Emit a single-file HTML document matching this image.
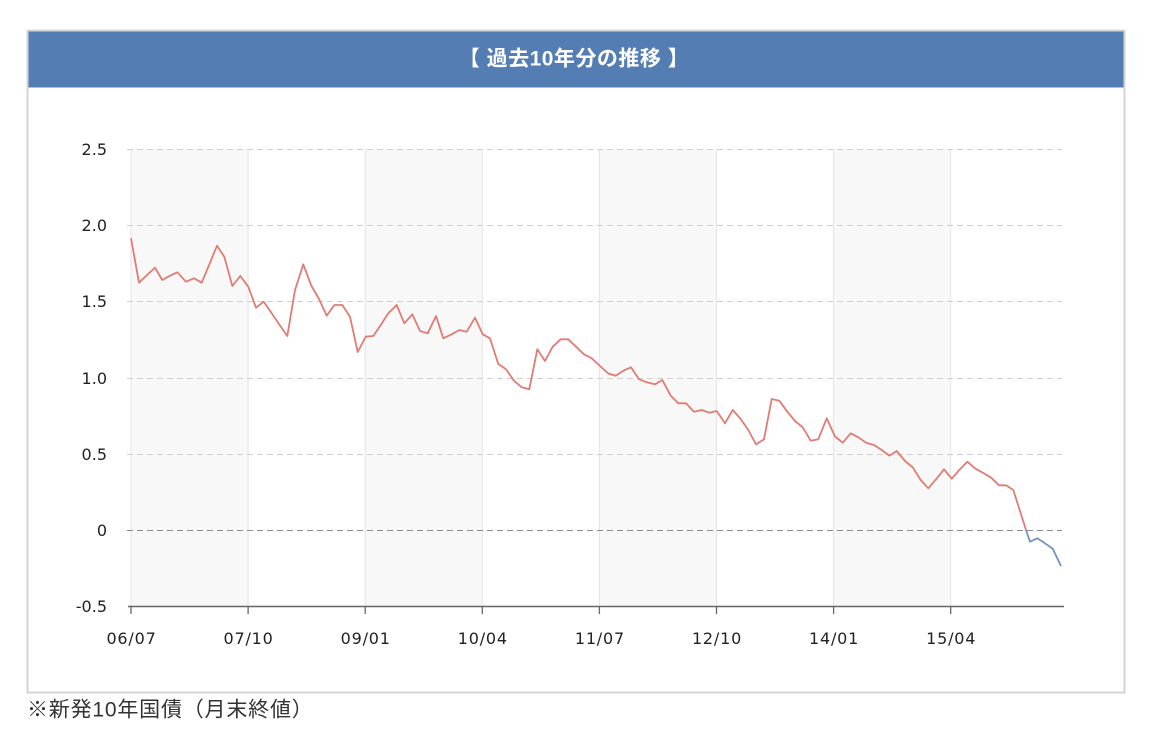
<!DOCTYPE html>
<html>
<head>
<meta charset="utf-8">
<style>
html,body{margin:0;padding:0;background:#fff;}
body{width:1155px;height:735px;overflow:hidden;}
svg{display:block;}
</style>
</head>
<body>
<svg width="1155" height="735" viewBox="0 0 1155 735" xmlns="http://www.w3.org/2000/svg">
  <!-- outer box -->
  <rect x="27.5" y="30.5" width="1097" height="662" fill="#fff" stroke="#d4d4d4" stroke-width="2"/>
  <!-- header -->
  <rect x="28.5" y="31.5" width="1095" height="56" fill="#547db3"/>
  <text x="574" y="65.5" text-anchor="middle" font-family="'Liberation Sans','Noto Sans CJK JP',sans-serif" font-size="21" font-weight="bold" fill="#ffffff" letter-spacing="0.5">【 過去10年分の推移 】</text>

  <!-- shaded bands -->
  <g fill="#f8f8f8">
    <rect x="131" y="149" width="117.1" height="457"/>
    <rect x="365.2" y="149" width="117.1" height="457"/>
    <rect x="599.4" y="149" width="117.1" height="457"/>
    <rect x="833.6" y="149" width="117.1" height="457"/>
  </g>
  <!-- vertical grid -->
  <g stroke="#e4e4e4" stroke-width="1">
    <line x1="131" y1="149" x2="131" y2="606"/>
    <line x1="248.1" y1="149" x2="248.1" y2="606"/>
    <line x1="365.2" y1="149" x2="365.2" y2="606"/>
    <line x1="482.3" y1="149" x2="482.3" y2="606"/>
    <line x1="599.4" y1="149" x2="599.4" y2="606"/>
    <line x1="716.5" y1="149" x2="716.5" y2="606"/>
    <line x1="833.6" y1="149" x2="833.6" y2="606"/>
    <line x1="950.7" y1="149" x2="950.7" y2="606"/>
  </g>
  <!-- horizontal dashed grid -->
  <g stroke="#cfcfcf" stroke-width="1" stroke-dasharray="6,4">
    <line x1="127" y1="149.5" x2="1062" y2="149.5"/>
    <line x1="127" y1="225.5" x2="1062" y2="225.5"/>
    <line x1="127" y1="301.5" x2="1062" y2="301.5"/>
    <line x1="127" y1="378.5" x2="1062" y2="378.5"/>
    <line x1="127" y1="454.5" x2="1062" y2="454.5"/>
  </g>
  <line x1="127" y1="530.5" x2="1062" y2="530.5" stroke="#8c8c8c" stroke-width="1" stroke-dasharray="6,4"/>

  <!-- axis -->
  <line x1="128" y1="606.5" x2="1064" y2="606.5" stroke="#666" stroke-width="1.6"/>
  <g stroke="#666" stroke-width="1.3">
    <line x1="131" y1="606" x2="131" y2="614"/>
    <line x1="248.1" y1="606" x2="248.1" y2="614"/>
    <line x1="365.2" y1="606" x2="365.2" y2="614"/>
    <line x1="482.3" y1="606" x2="482.3" y2="614"/>
    <line x1="599.4" y1="606" x2="599.4" y2="614"/>
    <line x1="716.5" y1="606" x2="716.5" y2="614"/>
    <line x1="833.6" y1="606" x2="833.6" y2="614"/>
    <line x1="950.7" y1="606" x2="950.7" y2="614"/>
  </g>

  <!-- y labels -->
  <g font-family="'DejaVu Sans','Liberation Sans',sans-serif" font-size="16" fill="#222" text-anchor="end">
    <text x="107" y="155">2.5</text>
    <text x="107" y="231">2.0</text>
    <text x="107" y="307">1.5</text>
    <text x="107" y="384">1.0</text>
    <text x="107" y="460">0.5</text>
    <text x="107" y="536">0</text>
    <text x="107" y="612">-0.5</text>
  </g>
  <!-- x labels -->
  <g font-family="'DejaVu Sans','Liberation Sans',sans-serif" font-size="16" fill="#222" text-anchor="middle" letter-spacing="0.8">
    <text x="131.5" y="644">06/07</text>
    <text x="248.6" y="644">07/10</text>
    <text x="365.7" y="644">09/01</text>
    <text x="482.8" y="644">10/04</text>
    <text x="599.9" y="644">11/07</text>
    <text x="717" y="644">12/10</text>
    <text x="834.1" y="644">14/01</text>
    <text x="951.2" y="644">15/04</text>
  </g>

  <!-- data line -->
  <polyline fill="none" stroke="#e07c74" stroke-width="1.8" stroke-linejoin="round" points="
131,238.3 139,282.7 147,275 155,267.7 162.3,280 170,275.7 177.3,272.3 186,281.7 194,278.3 201.7,282.7
209.5,264 217,245.7 224.3,256.7 232.3,286 240.3,276 248.3,286.7 256,307.7 263.7,301.7 271.7,313.3 279.5,324.7
287.3,336 295,290 303.3,264.3 311,285 319,299 326.7,315.7 334.3,305 342.3,305 350,316.7 357.7,352
365.7,336.7 373.3,336 380.7,325 388.3,313.3 396.7,305 404.3,323.3 412.3,314.3 420,331 427.7,333.3 436,316
443.3,338.3 451.7,334.3 459.3,330 466.7,331.7 475,317.7 482.7,334.3 490,338.3 498.3,364 506,369.3 514,380.7
521.7,387.3 529.3,389.3 537.3,349.3 545,361 552.7,346.7 560.7,339.3 568.3,339.3 576,346.7 584,354.3 591.7,358.3
600,366 608.3,373.5 615.7,375.7 623.3,370.7 631,367.3 639,379.3 646.7,382.3 655,384.3 662.3,380 670.7,395.7
678.3,403.3 686,403.3 694,411.7 701.7,410 709.3,412.7 716.7,411 725,423.3 732.7,410 740.7,419 748.3,430
756,444.3 764,439.3 771.7,399 779.3,400.7 787.3,411.7 795,421 802.7,427.3 810.7,440.7 818.3,439.3 826.7,418.3
835,436.5 842.7,442.7 850.7,433.3 858.3,437.3 866,442.7 874,445 881.7,450 889.3,455.7 896.7,451 905,461
912.7,467.3 920.7,480 928.3,488.3 936,479.3 944,469.3 951.7,478.7 959.3,470 967.3,461.7 975,468.3 982.7,472.7
990.7,477.3 999,485.3 1006,485.3 1013.3,490 1026,530"/>
  <polyline fill="none" stroke="#7590c6" stroke-width="1.8" stroke-linejoin="round" points="1026,530 1030,541.7 1037.3,538.3 1045,543.3 1052.7,548.7 1061,566"/>

  <!-- footnote -->
  <text x="27" y="716.5" font-family="'Liberation Sans','Noto Sans CJK JP',sans-serif" font-size="21" fill="#333" letter-spacing="0.8">※新発10年国債（月末終値）</text>
</svg>
</body>
</html>
